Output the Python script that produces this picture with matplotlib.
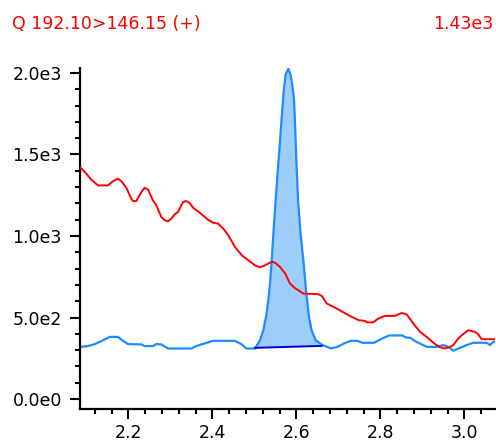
import matplotlib
matplotlib.use('Agg')
import matplotlib.pyplot as plt
from matplotlib.ticker import MultipleLocator, FixedLocator
import numpy as np

# chromatogram traces
red_x = [2.0867, 2.1000, 2.1119, 2.1279, 2.1517, 2.1636, 2.1755, 2.1833, 2.1952, 2.2071,
         2.2112, 2.2190, 2.2310, 2.2390, 2.2469, 2.2588, 2.2667, 2.2786, 2.2867, 2.2945,
         2.3024, 2.3105, 2.3183, 2.3302, 2.3381, 2.3462, 2.3540, 2.3660, 2.3779, 2.3898,
         2.4017, 2.4136, 2.4262, 2.4381, 2.4540, 2.4700, 2.4857, 2.5017, 2.5136, 2.5255,
         2.5414, 2.5493, 2.5612, 2.5731, 2.5850, 2.5969, 2.6167, 2.6524, 2.6612, 2.6724,
         2.6962, 2.7200, 2.7476, 2.7636, 2.7683, 2.7833, 2.7952, 2.8112, 2.8350, 2.8510,
         2.8629, 2.8786, 2.8945, 2.9105, 2.9302, 2.9421, 2.9540, 2.9660, 2.9738, 2.9857,
         2.9969, 3.0095, 3.0255, 3.0326, 3.0414, 3.0738]
red_y = [1418, 1382, 1345, 1310, 1310, 1336, 1351, 1336, 1296, 1229,
         1214, 1214, 1269, 1296, 1284, 1218, 1188, 1116, 1096, 1090,
         1106, 1133, 1147, 1208, 1214, 1202, 1174, 1151, 1126, 1100,
         1081, 1076, 1045, 1004, 932, 882, 851, 820, 808, 820,
         842, 836, 810, 771, 708, 680, 647, 643, 631, 586,
         555, 520, 484, 479, 470, 470, 494, 510, 510, 528,
         519, 463, 412, 381, 337, 318, 310, 320, 331, 372,
         398, 422, 412, 398, 367, 367]

blue_x = [2.0867, 2.1040, 2.1200, 2.1357, 2.1557, 2.1755, 2.1874, 2.1993, 2.2310, 2.2390,
          2.2588, 2.2667, 2.2786, 2.2945, 2.3500, 2.3619, 2.3819, 2.4017, 2.4533, 2.4690,
          2.4810, 2.5017, 2.5136, 2.5214, 2.5279, 2.5333, 2.5374, 2.5414, 2.5450, 2.5500,
          2.5550, 2.5600, 2.5650, 2.5700, 2.5745, 2.5810, 2.5860, 2.5905, 2.5945, 2.5972,
          2.6000, 2.6040, 2.6102, 2.6183, 2.6238, 2.6302, 2.6364, 2.6460, 2.6619, 2.6738,
          2.6817, 2.6976, 2.7136, 2.7295, 2.7455, 2.7574, 2.7850, 2.8050, 2.8210, 2.8524,
          2.8605, 2.8724, 2.8826, 2.8986, 2.9105, 2.9343, 2.9500, 2.9619, 2.9738, 2.9857,
          3.0057, 3.0214, 3.0533, 3.0612, 3.0690, 3.0738]
blue_y = [320, 325, 337, 355, 381, 381, 357, 337, 335, 325,
          325, 337, 335, 310, 310, 325, 341, 357, 357, 337,
          310, 310, 361, 422, 504, 606, 708, 851, 1000, 1190,
          1370, 1540, 1720, 1890, 1990, 2025, 1990, 1925, 1840, 1670,
          1470, 1220, 1014, 810, 647, 504, 422, 361, 331, 320,
          310, 320, 341, 357, 357, 345, 345, 372, 390, 390,
          378, 375, 355, 335, 320, 320, 331, 320, 296, 310,
          331, 345, 345, 331, 351, 351]

# integration baseline under the peak
base_x = [2.5017, 2.6605]
base_y = [314, 326]

title_left = 'Q 192.10>146.15 (+)'
title_right = '1.43e3'
y_ticks = [0, 500, 1000, 1500, 2000]
y_labels = ['0.0e0', '5.0e2', '1.0e3', '1.5e3', '2.0e3']
x_ticks = [2.2, 2.4, 2.6, 2.8, 3.0]
x_labels = ['2.2', '2.4', '2.6', '2.8', '3.0']

plt.rcParams['font.family'] = ['DejaVu Sans']

fig = plt.figure(figsize=(4.96, 4.41), dpi=100)
ax = fig.add_axes([80/496, 1 - 409/441, 415/496, 341/441])

bx = np.array(blue_x)
by = np.array(blue_y)
mask = (bx >= base_x[0]) & (bx <= base_x[1])
fx = np.concatenate([[base_x[0]], bx[mask], [base_x[1]]])
fy = np.concatenate([[base_y[0]], by[mask], [np.interp(base_x[1], bx, by)]])
ax.fill_between(fx, fy, np.interp(fx, base_x, base_y), color='#9dcdfb', lw=0, zorder=1)

ax.plot(red_x, red_y, color='#ff0000', lw=1.4, zorder=3)
ax.plot(blue_x, blue_y, color='#1e8cff', lw=1.6, zorder=2)
ax.plot(base_x, base_y, color='#0000dd', lw=1.4, zorder=2)

ax.set_xlim(2.085, 3.073)
ax.set_ylim(-61, 2030)

for s in ['top', 'right']:
    ax.spines[s].set_visible(False)
for s in ['left', 'bottom']:
    ax.spines[s].set_linewidth(1.6)

ax.yaxis.set_major_locator(FixedLocator(y_ticks))
ax.set_yticklabels(y_labels)
ax.yaxis.set_minor_locator(MultipleLocator(100))
ax.xaxis.set_major_locator(FixedLocator(x_ticks))
ax.set_xticklabels(x_labels)
ax.xaxis.set_minor_locator(MultipleLocator(0.04))

ax.tick_params(axis='both', which='major', direction='out', length=7.5, width=1.5,
               labelsize=12.5, color='black')
ax.tick_params(axis='both', which='minor', direction='out', length=3.5, width=1.5)
ax.tick_params(axis='y', which='major', pad=5.5)
ax.tick_params(axis='x', which='major', pad=3.5)

fig.text(12/496, 1 - 24/441, title_left, color='#ff0000', fontsize=12.5,
         ha='left', va='center')
fig.text(493/496, 1 - 24/441, title_right, color='#ff0000', fontsize=12.5,
         ha='right', va='center')

fig.savefig('out.png', dpi=100)
